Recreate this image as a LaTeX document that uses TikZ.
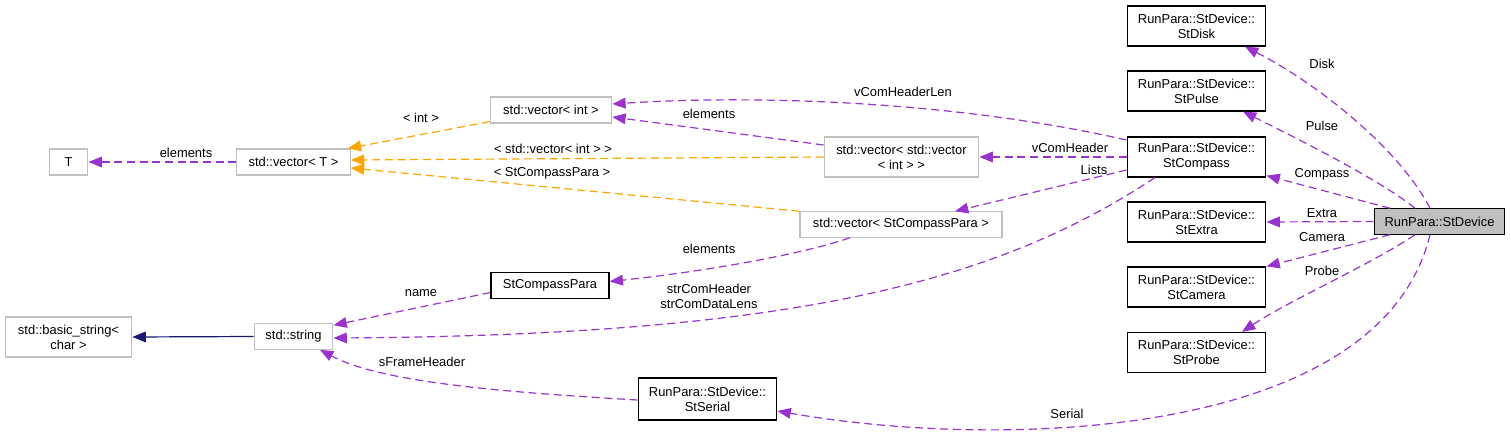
\documentclass[tikz,border=0pt]{standalone}
\usepackage{fontspec}
\setmainfont{Liberation Sans}
\usepackage{tikz}
\usetikzlibrary{arrows.meta,calc}
\definecolor{edgepurple}{HTML}{9A32CD}
\definecolor{edgeorange}{HTML}{FFA500}
\definecolor{edgeblue}{HTML}{191970}
\definecolor{boxgray}{HTML}{BFBFBF}

\begin{document}
\begin{tikzpicture}[
    x=0.75pt, y=-0.75pt,
    cls/.style={
      draw=#1, line width=0.9pt, fill=white,
      font=\fontsize{9.7}{11.3}\selectfont,
      align=center, inner sep=0pt,
    },
    use/.style={-{Triangle[length=10pt,width=8pt]}, line width=0.9pt,
      dash pattern=on 6pt off 3.5pt, #1},
    lbl/.style={font=\fontsize{9.7}{11.3}\selectfont, text=black, align=center, inner sep=0pt},
  ]
  \useasboundingbox (0,0) rectangle (1511,435);

  % =================== LEFT: templates and strings ===================
  \node[cls=boxgray, minimum width=29pt, minimum height=19.5pt] (tT) at (68.5,162) {T};
  \node[cls=boxgray, minimum width=85pt, minimum height=19.5pt] (vT) at (293.5,162) {std::vector< T >};
  \node[cls=boxgray, minimum width=91pt, minimum height=19.5pt] (vI) at (551,110) {std::vector< int >};
  \node[cls=boxgray, minimum width=116pt, minimum height=30pt] (vV) at (901.5,157) {std::vector< std::vector\\< int > >};
  \node[cls=boxgray, minimum width=151.5pt, minimum height=19pt] (vP) at (901,224.5) {std::vector< StCompassPara >};
  \node[cls=black, minimum width=88.5pt, minimum height=19.5pt] (cP) at (550,285.5) {StCompassPara};
  \node[cls=boxgray, minimum width=59pt, minimum height=19pt] (str) at (293.5,336.5) {std::string};
  \node[cls=boxgray, minimum width=95pt, minimum height=30pt] (bstr) at (68.5,337) {std::basic\_string<\\char >};
  \node[cls=black, minimum width=104pt, minimum height=31.5pt] (ser) at (707.5,399) {RunPara::StDevice::\\StSerial};

  % =================== RIGHT: device members ===================
  \node[cls=black, minimum width=104pt, minimum height=30pt] (dsk) at (1196.5,26) {RunPara::StDevice::\\StDisk};
  \node[cls=black, minimum width=104pt, minimum height=30pt] (pls) at (1196.5,91) {RunPara::StDevice::\\StPulse};
  \node[cls=black, minimum width=104pt, minimum height=30pt] (cmp) at (1196.5,157) {RunPara::StDevice::\\StCompass};
  \node[cls=black, minimum width=104pt, minimum height=30pt] (ext) at (1196.5,222) {RunPara::StDevice::\\StExtra};
  \node[cls=black, minimum width=104pt, minimum height=30pt] (cam) at (1196.5,287) {RunPara::StDevice::\\StCamera};
  \node[cls=black, minimum width=104pt, minimum height=30pt] (prb) at (1196.5,352.5) {RunPara::StDevice::\\StProbe};
  \node[cls=black, fill=boxgray, minimum width=98pt, minimum height=19pt] (dev) at (1439.5,221.5) {RunPara::StDevice};

  % StDevice members
  \draw[use=edgepurple] ($(dev.north)+(-9.5,0)$) .. controls (1400,150) and (1320,85) .. ($(dsk.south)+(48.5,0)$)
    node[lbl] at (1322,64) {Disk};
  \draw[use=edgepurple] ($(dev.north)+(-24.5,0)$) .. controls (1380,180) and (1300,140) .. ($(pls.south)+(46.5,0)$)
    node[lbl] at (1322,126) {Pulse};
  \draw[use=edgepurple] ($(dev.north)+(-49.5,0)$) -- ($(cmp.south east)+(0,-2)$)
    node[lbl] at (1322,174) {Compass};
  \draw[use=edgepurple] (dev.west) -- (ext.east)
    node[lbl] at (1322,213) {Extra};
  \draw[use=edgepurple] ($(dev.south)+(-49.5,0)$) -- (cam.north east)
    node[lbl] at (1322,237) {Camera};
  \draw[use=edgepurple] ($(dev.south)+(-24.5,0)$) .. controls (1370,265) and (1290,300) .. ($(prb.north)+(45.5,0)$)
    node[lbl] at (1322,271) {Probe};
  \draw[use=edgepurple] ($(dev.south)+(-9.5,0)$) .. controls (1380,440) and (1000,450) .. ($(ser.east)+(0,12)$)
    node[lbl] at (1067,414) {Serial};

  % StCompass members
  \draw[use=edgepurple] ($(cmp.west)+(0,-17)$) .. controls (950,100) and (750,95) .. ($(vI.east)+(0,-6)$)
    node[lbl] at (903,92) {vComHeaderLen};
  \draw[use=edgepurple] (cmp.west) -- (vV.east)
    node[lbl] at (1070,148) {vComHeader};
  \draw[use=edgepurple] ($(cmp.west)+(0,13)$) -- ($(vP.north)+(54,0)$)
    node[lbl] at (1094,170) {Lists};
  \draw[use=edgepurple] ($(cmp.south)+(-41.5,0)$) .. controls (1000,280) and (800,335) .. ($(str.east)+(0,1.5)$)
    node[lbl] at (709,296.5) {strComHeader\\strComDataLens};

  % container elements
  \draw[use=edgepurple] ($(vV.west)+(0,-12)$) -- ($(vI.east)+(0,7)$)
    node[lbl] at (709,114) {elements};
  \draw[use=edgepurple] ($(vP.south)+(-51,0)$) .. controls (800,255) and (700,272) .. ($(cP.east)+(0,-4)$)
    node[lbl] at (709,249) {elements};
  \draw[use=edgepurple] (vT.west) -- (tT.east)
    node[lbl] at (186,153) {elements};

  % template instances
  \draw[use=edgeorange] (vV.west) -- ($(vT.east)+(0,-2)$)
    node[lbl] at (553,149) {< std::vector< int > >};
  \draw[use=edgeorange] ($(vI.south west)+(0,-2)$) -- ($(vT.north east)+(-3,0)$)
    node[lbl] at (421,118) {< int >};
  \draw[use=edgeorange] (vP.north west) -- ($(vT.east)+(0,6)$)
    node[lbl] at (552,173) {< StCompassPara >};

  % strings
  \draw[use=edgepurple] ($(cP.west)+(0,7)$) -- ($(str.north east)+(0,2)$)
    node[lbl] at (421,293) {name};
  \draw[use=edgepurple] ($(ser.west)+(0,1)$) .. controls (500,392) and (380,382) .. ($(str.south)+(26.5,0)$)
    node[lbl] at (422,362) {sFrameHeader};
  \draw[-{Triangle[length=10pt,width=8pt]}, line width=0.9pt, edgeblue] (str.west) -- (bstr.east);

\end{tikzpicture}
\end{document}
